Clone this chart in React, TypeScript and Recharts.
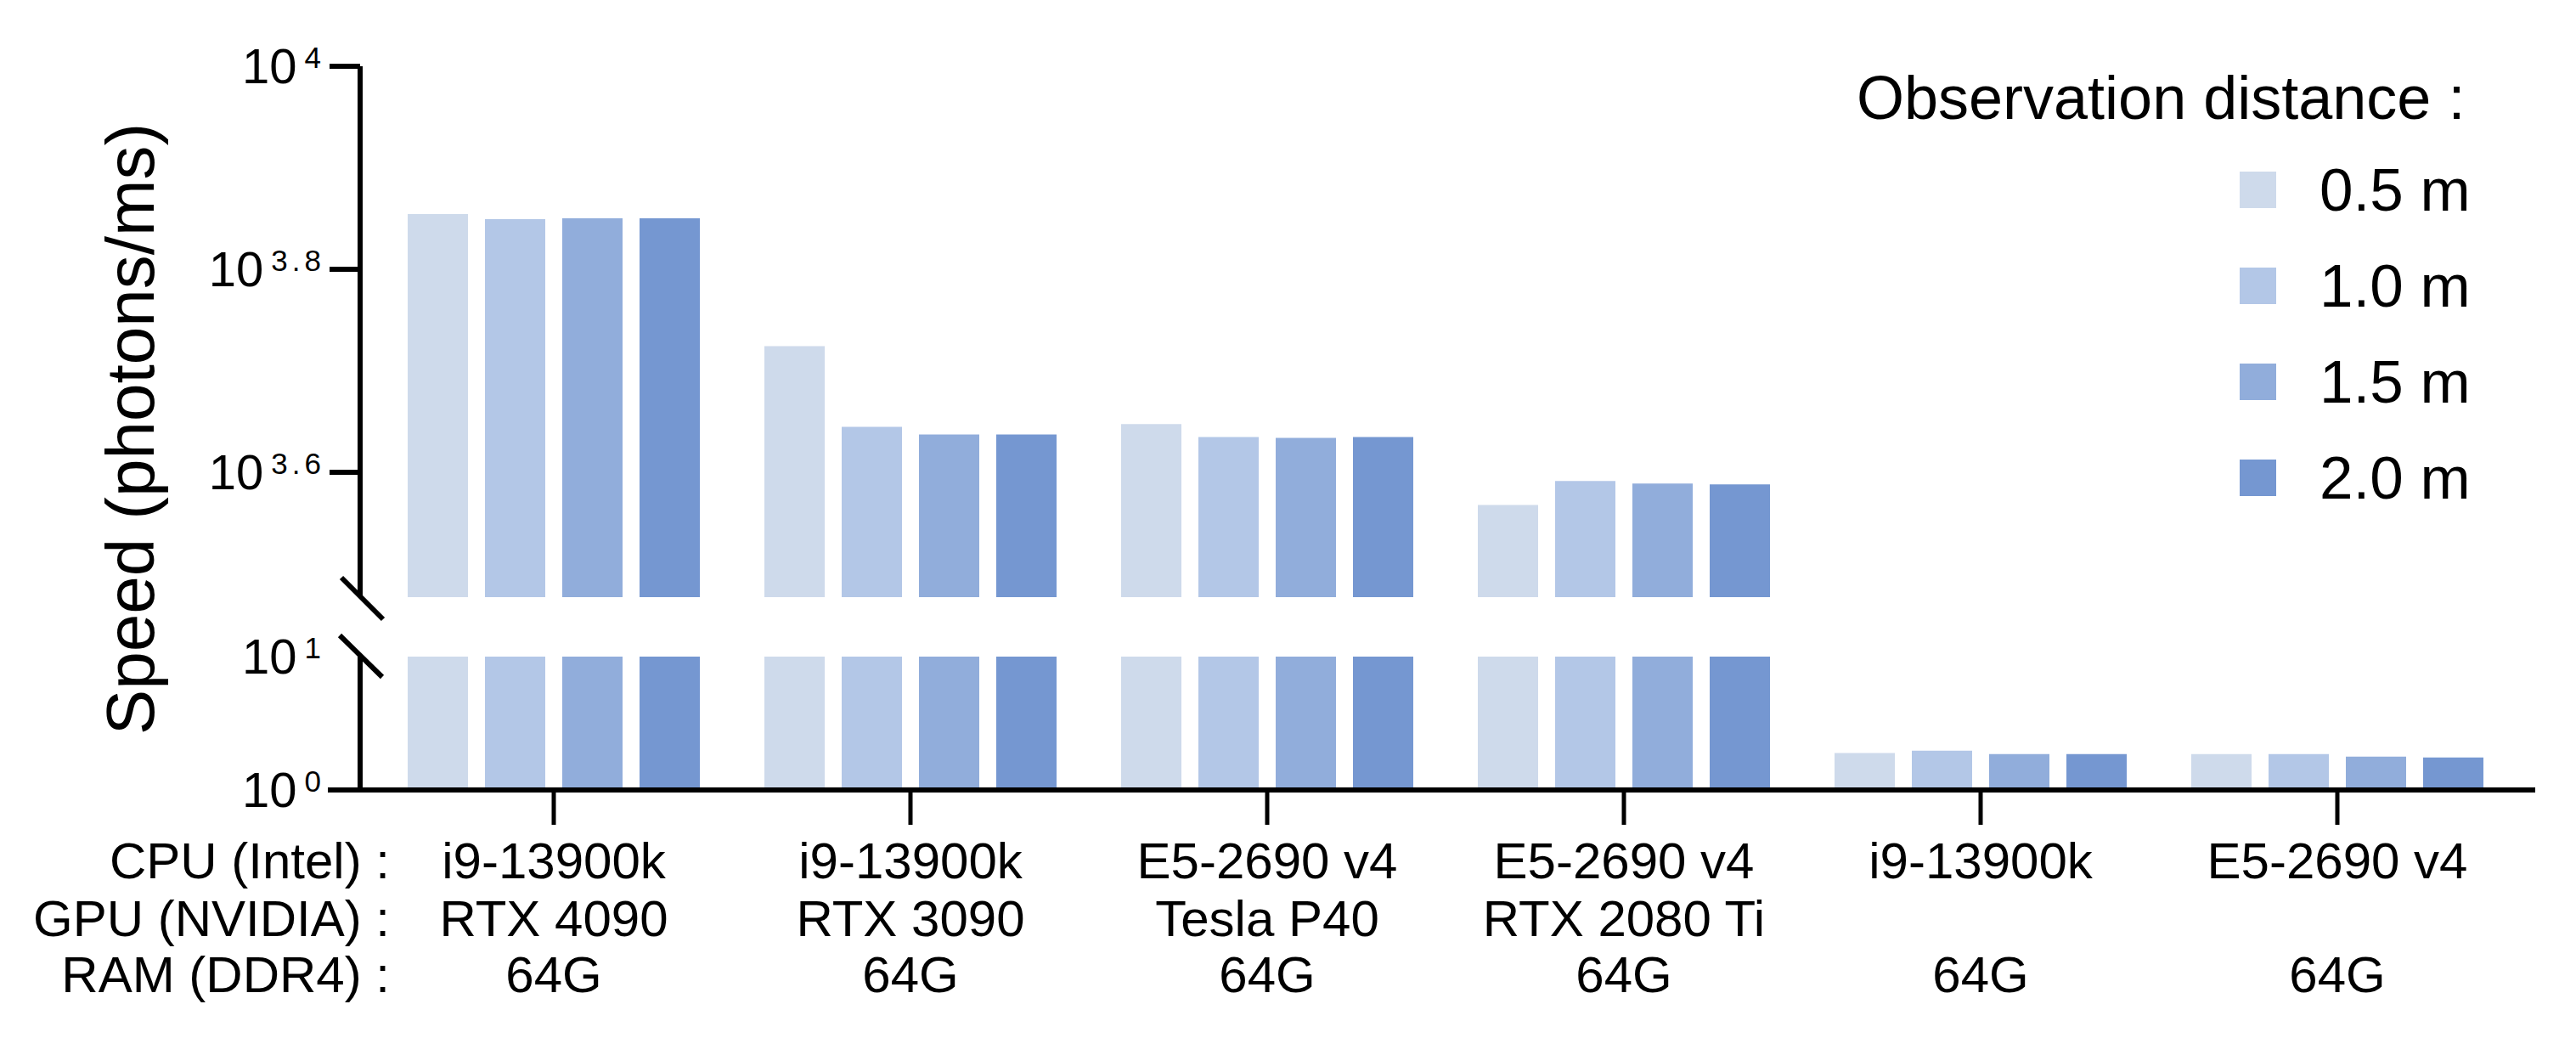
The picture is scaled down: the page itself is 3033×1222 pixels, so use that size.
import React from 'react'
import { BarChart, Bar, XAxis, YAxis, Legend, Customized } from 'recharts'

// values (photons/ms)
const cpus = ['i9-13900k', 'i9-13900k', 'E5-2690 v4', 'E5-2690 v4', 'i9-13900k', 'E5-2690 v4']
const gpus = ['RTX 4090', 'RTX 3090', 'Tesla P40', 'RTX 2080 Ti', '', '']
const rams = ['64G', '64G', '64G', '64G', '64G', '64G']
const rowLabels = ['CPU (Intel) :', 'GPU (NVIDIA) :', 'RAM (DDR4) :']

const d05 = [7153, 5300, 4441, 3698, 1.89, 1.86]
const d10 = [7071, 4415, 4313, 3904, 1.97, 1.86]
const d15 = [7085, 4338, 4305, 3882, 1.86, 1.78]
const d20 = [7085, 4338, 4313, 3875, 1.86, 1.75]

const seriesNames = ['0.5 m', '1.0 m', '1.5 m', '2.0 m']
const seriesColors = ['#CEDAEB', '#B3C7E7', '#91ADDB', '#7597D1']
const seriesKeys = ['d05', 'd10', 'd15', 'd20']

const upperExp = ['3.6', '3.8', '4']
const lowerExp = ['0', '1']
const upperMin = 3000
const upperMax = 10000
const lowerMin = 1
const lowerMax = 10

const FONT = '"Liberation Sans", Arial, Helvetica, sans-serif'
const W = 3033
const H = 1222

const allSeries = [d05, d10, d15, d20]
const lowerData = cpus.map((c, i) => {
  const row: Record<string, any> = { key: String(i) }
  seriesKeys.forEach((k, s) => { row[k] = allSeries[s][i] })
  return row
})
// upper panel only shows bars that reach into its range
const upperData = lowerData.map(r => {
  const row: Record<string, any> = { key: r.key }
  seriesKeys.forEach(k => { row[k] = r[k] >= upperMin ? r[k] : null })
  return row
})

const EXP_SIZE = 35
const EXP_SPACING = 5
const expWidth = (e: string) =>
  e.split('').reduce((w, ch) => w + (ch === '.' ? 0.278 : 0.556) * EXP_SIZE, 0) + EXP_SPACING * (e.length - 1)

const PowTick = (props: any) => {
  const { y, payload, exps, ticks, drawLine } = props
  const i = ticks.indexOf(payload.value)
  const e = exps[i] ?? ''
  const right = 378
  return (
    <g style={{ fontFamily: FONT }}>
      {drawLine && e === '0' && <line x1={386} x2={424} y1={y} y2={y} stroke="#000" strokeWidth={6} />}
      <text x={right - expWidth(e) - 9} y={y + 20} textAnchor="end" fontSize={58} fill="#000">10</text>
      <text x={right + EXP_SPACING} y={y + 2} textAnchor="end" fontSize={EXP_SIZE} letterSpacing={EXP_SPACING} fill="#000">{e}</text>
    </g>
  )
}

const CategoryTick = (props: any) => {
  const { x, index } = props
  const rows = [cpus, gpus, rams]
  const baselines = [1034, 1102, 1168]
  return (
    <g style={{ fontFamily: FONT }}>
      {rows.map((r, k) => (
        <text key={k} x={x} y={baselines[k]} textAnchor="middle" fontSize={60} fill="#000">{r[index]}</text>
      ))}
      {index === 0 && rowLabels.map((l, k) => (
        <text key={'l' + k} x={459} y={baselines[k]} textAnchor="end" fontSize={60} fill="#000">{l}</text>
      ))}
    </g>
  )
}

const BreakMarks = () => (
  <g>
    <line x1={402} y1={680} x2={451} y2={729} stroke="#000" strokeWidth={6} />
    <line x1={400} y1={748} x2={450} y2={797} stroke="#000" strokeWidth={6} />
    <text transform="translate(181,505) rotate(-90)" textAnchor="middle" fontSize={80} fill="#000" style={{ fontFamily: FONT }}>
      Speed (photons/ms)
    </text>
  </g>
)

const LegendBox = (props: any) => {
  const { payload = [] } = props
  return (
    <svg width={W} height={700} style={{ fontFamily: FONT }}>
      <text x={2186} y={140} fontSize={72} fill="#000">Observation distance :</text>
      {payload.map((p: any, i: number) => (
        <g key={p.value}>
          <rect x={2637} y={202 + i * 113} width={43} height={43} fill={p.color} />
          <text x={2731} y={248 + i * 113} fontSize={71} fill="#000">{p.value}</text>
        </g>
      ))}
    </svg>
  )
}

const upperTicks = upperExp.map(e => 10 ** Number(e))
const lowerTicks = lowerExp.map(e => 10 ** Number(e))

export default function App() {
  return (
    <div style={{ position: 'absolute', left: 0, top: 0, width: W, height: H, background: '#fff', fontFamily: FONT }}>
      <div style={{ position: 'absolute', left: 0, top: 0 }}>
        <BarChart width={W} height={H} data={upperData} margin={{ top: 78, right: 48, bottom: 519, left: 0 }}
          barCategoryGap={38} barGap={20}>
          <XAxis dataKey="key" hide padding={{ left: 18, right: 23 }} />
          <YAxis scale="log" domain={[upperMin, upperMax]} allowDataOverflow ticks={upperTicks} width={424}
            axisLine={{ stroke: '#000', strokeWidth: 6 }} tickLine={{ stroke: '#000', strokeWidth: 6 }} tickSize={36}
            tick={<PowTick exps={upperExp} ticks={upperTicks} />} />
          <Legend layout="vertical" align="center" verticalAlign="middle" content={<LegendBox />}
            wrapperStyle={{ left: 0, top: 0, width: W, height: 700 }} />
          {seriesKeys.map((k, s) => (
            <Bar key={k} dataKey={k} name={seriesNames[s]} fill={seriesColors[s]} isAnimationActive={false} />
          ))}
        </BarChart>
      </div>
      <div style={{ position: 'absolute', left: 0, top: 0 }}>
        <BarChart width={W} height={H} data={lowerData} margin={{ top: 773, right: 48, bottom: 0, left: 0 }}
          barCategoryGap={38} barGap={20}>
          <XAxis dataKey="key" height={292} padding={{ left: 18, right: 23 }} interval={0}
            axisLine={{ stroke: '#000', strokeWidth: 6 }} tickLine={{ stroke: '#000', strokeWidth: 5 }} tickSize={41}
            tick={<CategoryTick />} />
          <YAxis scale="log" domain={[lowerMin, lowerMax]} allowDataOverflow ticks={lowerTicks} width={424}
            axisLine={{ stroke: '#000', strokeWidth: 6 }} tickLine={false}
            tick={<PowTick exps={lowerExp} ticks={lowerTicks} drawLine />} />
          {seriesKeys.map((k, s) => (
            <Bar key={k} dataKey={k} name={seriesNames[s]} fill={seriesColors[s]} isAnimationActive={false} />
          ))}
          <Customized component={BreakMarks} />
        </BarChart>
      </div>
    </div>
  )
}
